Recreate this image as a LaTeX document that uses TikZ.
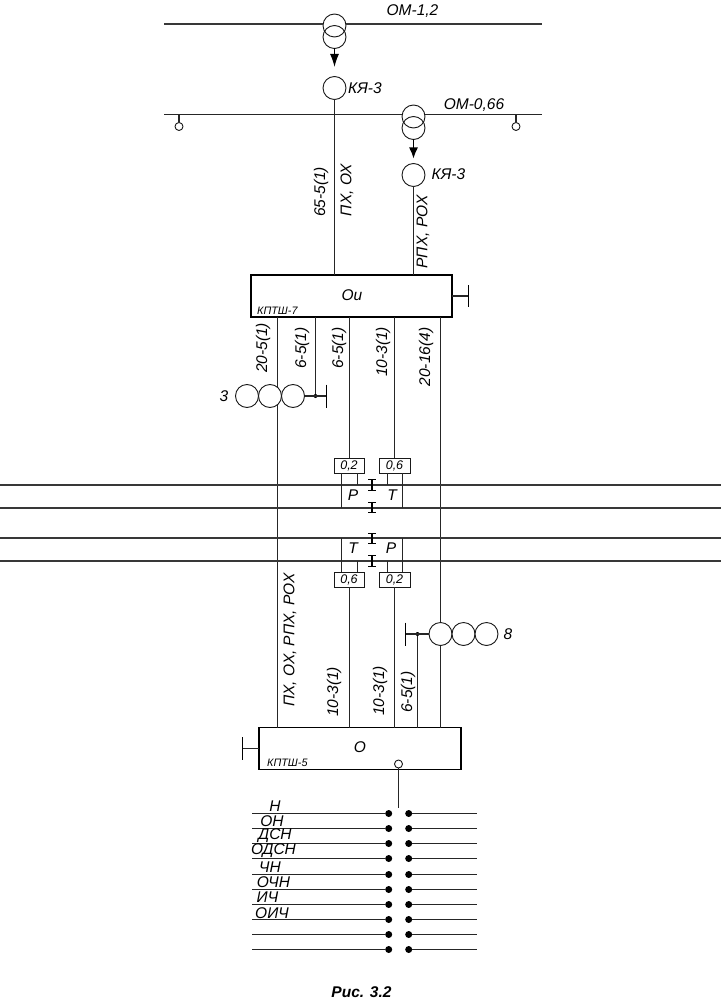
\documentclass[tikz,border=0pt]{standalone}
\usepackage{fontspec}
\setmainfont{Liberation Sans}
\usetikzlibrary{arrows.meta}
\tikzset{
 wire/.style={draw=black!85,line width=1.5pt},
 hbus/.style={draw=black!78,line width=1.9pt},
 tee/.style={draw=black,line width=1.5pt},
 ring/.style={circle,draw=black!90,line width=.9pt,fill=white,minimum size=23pt,inner sep=0pt,outer sep=0pt},
 smallring/.style={circle,draw=black!90,line width=.9pt,fill=white,minimum size=8pt,inner sep=0pt,outer sep=0pt},
 bigbox/.style={rectangle,draw=black,line width=1.4pt,fill=white,inner sep=0pt,outer sep=0pt},
 tagbox/.style={rectangle,draw=black!90,line width=1pt,fill=white,minimum width=30pt,minimum height=15pt,inner sep=0pt,outer sep=0pt,font=\fontsize{12.5}{13}\selectfont\itshape},
 lab/.style={inner sep=0pt,font=\fontsize{15.5}{16}\selectfont\itshape},
 vlab/.style={lab,rotate=90},
 minilab/.style={inner sep=0pt,font=\fontsize{10.8}{11}\selectfont\itshape},
 junction/.style={circle,fill=black,minimum size=4pt,inner sep=0pt,outer sep=0pt},
 busdot/.style={circle,fill=black,minimum size=7pt,inner sep=0pt,outer sep=0pt},
 arrowed/.style={draw=black,line width=1.3pt,-{Latex[length=13pt,width=9pt,black]}},
 arrowedb/.style={draw=black,line width=1.3pt,-{Latex[length=11pt,width=9pt,black]}},
}
\begin{document}
\begin{tikzpicture}[x=1pt,y=-1pt]
\useasboundingbox (0,0) rectangle (721,1003);

% top section
\node[ring] (t1u) at (334.5,25.5) {};
\coordinate (b1l) at (164,24); \coordinate (b1r) at (542,24);
\draw[hbus] (b1l) -- (t1u.west |- b1l);
\draw[hbus] (t1u.east |- b1r) -- (b1r);
\node[ring,fill=none] (t1d) at (334.5,37) {};
\node[ring] (k1) at (334.5,88) {};
\draw[arrowed] (t1d.south) -- (334.5,67);

\coordinate (b2l) at (164,114.5); \coordinate (b2r) at (542,114.5);
\node[ring] (t2u) at (413.5,116.5) {};
\node[ring,fill=none] (t2d) at (413.5,128) {};
\draw[wire] (b2l) -- (t2u.west |- b2l);
\draw[wire] (t2u.east |- b2r) -- (b2r);
\node[ring] (k2) at (413.5,175) {};
\draw[arrowedb] (t2d.south) -- (413.5,158.5);

\node[smallring] (s1) at (179,126.5) {};
\node[smallring] (s2) at (516,126.5) {};
\draw[wire] (s1.north) -- (s1.north |- b2l);
\draw[wire] (s2.north) -- (s2.north |- b2r);

\node[lab] at (412.5,11) {ОМ-1,2};
\node[lab] at (474,105) {ОМ-0,66};
\node[lab,anchor=west] at (348,88) {КЯ-3};
\node[lab,anchor=west] at (431.5,174) {КЯ-3};
\node[vlab] at (321,192) {65-5(1)};
\node[vlab] at (347,190) {ПХ, ОХ};
\node[vlab] at (423,232) {РПХ, РОХ};

% main boxes
\node[bigbox,minimum width=201pt,minimum height=42pt] (ou) at (351.5,296) {};
\node[bigbox,minimum width=202pt,minimum height=41.5pt] (o) at (360,748.5) {};
\node[lab] at (352,295) {Ои};
\node[lab] at (360,747) {О};
\node[minilab,anchor=west] at (257,310.5) {КПТШ-7};
\node[minilab,anchor=west] at (267,763) {КПТШ-5};

\draw[wire] (k1.south) -- (k1.south |- ou.north);
\draw[wire] (k2.south) -- (k2.south |- ou.north);

% earth tees of the boxes
\coordinate (e1) at (468.5,296);
\draw[wire] (ou.east) -- (e1);
\draw[tee] ([yshift=11pt]e1) -- ([yshift=-11pt]e1);
\coordinate (e2) at (242.5,748.5);
\draw[wire] (o.west) -- (e2);
\draw[tee] ([yshift=11.5pt]e2) -- ([yshift=-11.5pt]e2);

% long vertical wires
\coordinate (x277) at (277.5,317); \coordinate (x440) at (440.5,317);
\draw[wire] (x277) -- (x277 |- o.north);
\draw[wire] (x440) -- (x440 |- o.north);

% ring groups
\node[ring] (r1) at (247,396) {};
\node[ring] (r2) at (270,396) {};
\node[ring] (r3) at (293,396) {};
\node[ring] (q1) at (440.5,634) {};
\node[ring] (q2) at (463.5,634) {};
\node[ring] (q3) at (486.5,634) {};
\node[lab] at (224,396) {3};
\node[lab] at (508,634) {8};

\coordinate (g1) at (326.5,396);
\node[junction] (d1) at (315.5,396) {};
\draw[wire] (r3.east) -- (g1);
\draw[tee] ([yshift=11.5pt]g1) -- ([yshift=-11.5pt]g1);
\draw[wire] (d1 |- ou.south) -- (d1);

\coordinate (g2) at (405.5,634);
\node[junction] (d2) at (417.5,634) {};
\draw[wire] (q1.west) -- (g2);
\draw[tee] ([yshift=11.5pt]g2) -- ([yshift=-11.5pt]g2);
\draw[wire] (d2) -- (d2 |- o.north);

% cable lines (horizontal)
\foreach \n/\y in {h1/485,h2/508,h3/538,h4/561}{
  \coordinate (\n l) at (0,\y); \coordinate (\n r) at (721,\y);
  \draw[hbus] (\n l) -- (\n r);
}

% small tag boxes
\node[tagbox] (a02) at (349,465.5) {0,2};
\node[tagbox,minimum width=31pt] (a06) at (394.5,465.5) {0,6};
\node[tagbox] (c06) at (349,579.5) {0,6};
\node[tagbox,minimum width=31pt] (c02) at (394.5,579.5) {0,2};

\draw[wire] (349.5,317) -- (349.5,458);
\draw[wire] (394.5,317) -- (394.5,458);
\draw[wire] (349.5,587) -- (349.5,727.7);
\draw[wire] (394.5,587) -- (394.5,727.7);

% connections of tag boxes to the lines
\draw[wire] (341.5,473) -- (341.5,508);
\draw[wire] (357.5,473) -- (357.5,485);
\draw[wire] (387.5,473) -- (387.5,485);
\draw[wire] (402.5,473) -- (402.5,508);
\draw[wire] (341.5,538) -- (341.5,572);
\draw[wire] (357.5,561) -- (357.5,572);
\draw[wire] (387.5,561) -- (387.5,572);
\draw[wire] (402.5,538) -- (402.5,572);

\node[lab] at (353,495.5) {Р};
\node[lab] at (392,495.5) {Т};
\node[lab] at (353,548) {Т};
\node[lab] at (391,548) {Р};

% I-shaped insulators
\foreach \a/\b in {479.5/490.5,502.5/512.5,533.5/543.5,555.5/566.5}{
  \draw[line width=1.6pt] (372,\a) -- (372,\b);
  \draw[line width=1.3pt] (368,\a) -- (376,\a);
  \draw[line width=1.3pt] (368,\b) -- (376,\b);
}

% wire labels
\node[vlab] at (263,348) {20-5(1)};
\node[vlab] at (302,348) {6-5(1)};
\node[vlab] at (339,348) {6-5(1)};
\node[vlab] at (383,352) {10-3(1)};
\node[vlab] at (426,357) {20-16(4)};
\node[vlab] at (290,640) {ПХ, ОХ, РПХ, РОХ};
\node[vlab] at (334,692) {10-3(1)};
\node[vlab] at (380,691) {10-3(1)};
\node[vlab] at (408,692) {6-5(1)};

% lower bus
\node[smallring] (out) at (398.5,764) {};
\coordinate (outend) at (398.5,808);
\draw[wire] (out.south) -- (outend);

\foreach \i/\y in {1/813.5,2/828.5,3/843.5,4/858.5,5/874.5,6/889.5,7/904.5,8/919.5,9/934.5,10/949.5}{
  \node[busdot] (dl\i) at (388.7,\y) {};
  \node[busdot] (dr\i) at (408.7,\y) {};
  \coordinate (el\i) at (252,\y);
  \coordinate (er\i) at (477,\y);
  \draw[wire] (el\i) -- (dl\i);
  \draw[wire] (dr\i) -- (er\i);
}
\node[lab] at (275,806) {Н};
\node[lab] at (272,821.5) {ОН};
\node[lab] at (275,836) {ДСН};
\node[lab] at (273.5,851) {ОДСН};
\node[lab] at (270,867) {ЧН};
\node[lab] at (273.5,882) {ОЧН};
\node[lab] at (267.5,897) {ИЧ};
\node[lab] at (272,913) {ОИЧ};

\node[inner sep=0pt,font=\fontsize{15.5}{16}\selectfont\bfseries\itshape] at (361.5,992) {Рис. 3.2};
\end{tikzpicture}
\end{document}
